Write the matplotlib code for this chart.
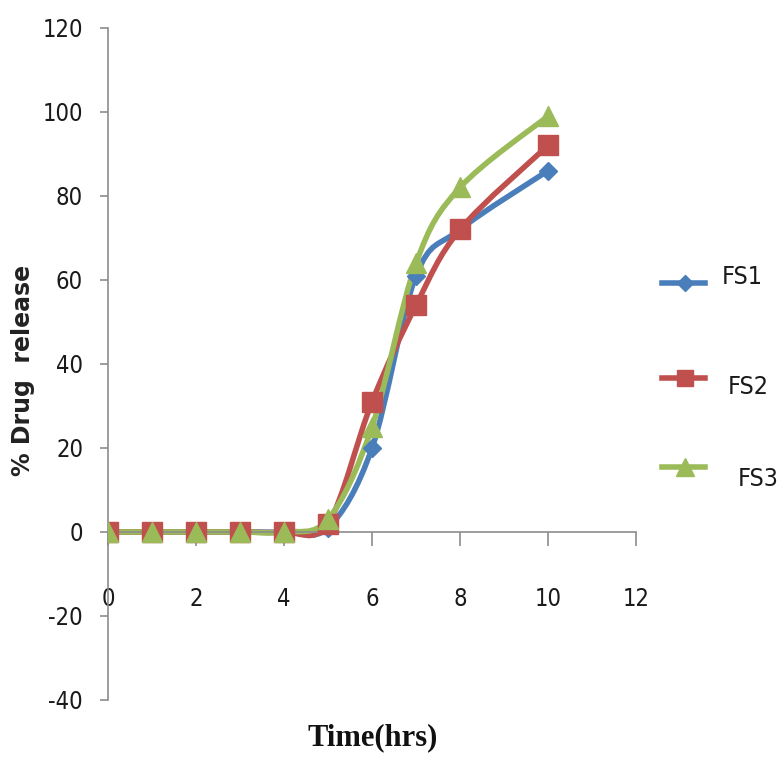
import numpy as np
import matplotlib
matplotlib.use("Agg")
import matplotlib.pyplot as plt
from matplotlib.path import Path
from matplotlib.patches import PathPatch
from matplotlib.lines import Line2D

plt.rcParams["axes.unicode_minus"] = False

# Release profile data
time_hrs = [0, 1, 2, 3, 4, 5, 6, 7, 8, 10]
fs1 = [0, 0, 0, 0, 0, 1, 20, 61, 72, 86]
fs2 = [0, 0, 0, 0, 0, 2, 31, 54, 72, 92]
fs3 = [0, 0, 0, 0, 0, 3, 25, 64, 82, 99]
series_names = ["FS1", "FS2", "FS3"]

x_ticks = [0, 2, 4, 6, 8, 10, 12]
y_ticks = [-40, -20, 0, 20, 40, 60, 80, 100, 120]

colors = ["#4A7EBB", "#C0504D", "#9BBB59"]
markers = ["D", "s", "^"]
msizes = [9, 14, 15]

TICK_FONT = dict(family="DejaVu Sans", stretch="condensed", size=17)


def smooth_path(xs, ys):
    """Cubic Bezier path through the points (Catmull-Rom style smoothing)."""
    pts = np.column_stack([xs, ys]).astype(float)
    n = len(pts)
    verts = [pts[0]]
    codes = [Path.MOVETO]
    for i in range(n - 1):
        p0 = pts[i - 1] if i > 0 else pts[i]
        p1 = pts[i]
        p2 = pts[i + 1]
        p3 = pts[i + 2] if i + 2 < n else pts[i + 1]
        c1 = p1 + (p2 - p0) / 6.0
        c2 = p2 - (p3 - p1) / 6.0
        verts += [c1, c2, p2]
        codes += [Path.CURVE4] * 3
    return Path(verts, codes)


fig = plt.figure(figsize=(7.8, 7.57), dpi=100)
ax = fig.add_axes([0.1385, 0.0753, 0.677, 0.888])

for vals, c, m, ms in zip([fs1, fs2, fs3], colors, markers, msizes):
    ax.add_patch(PathPatch(smooth_path(time_hrs, vals), facecolor="none",
                           edgecolor=c, lw=4.0, capstyle="round",
                           joinstyle="round", zorder=2))
    ax.plot(time_hrs, vals, linestyle="none", marker=m, markersize=ms,
            color=c, markeredgecolor=c, zorder=3)

ax.set_xlim(0, 12)
ax.set_ylim(-40, 120)
ax.set_xticks(x_ticks)
ax.set_yticks(y_ticks)

for s in ["top", "right"]:
    ax.spines[s].set_visible(False)
ax.spines["bottom"].set_position(("data", 0))
for s in ["left", "bottom"]:
    ax.spines[s].set_color("#8C8C8C")
    ax.spines[s].set_linewidth(1.2)

ax.tick_params(axis="x", direction="out", length=10, width=1.2,
               color="#8C8C8C", pad=30)
ax.tick_params(axis="y", direction="out", length=6, width=1.2,
               color="#8C8C8C", pad=12)
for lbl in ax.get_xticklabels() + ax.get_yticklabels():
    lbl.set_fontproperties(TICK_FONT)
    lbl.set_color("#1A1A1A")

fig.text(0.03, 1 - 370 / 757, "% Drug  release", rotation=90,
         ha="center", va="center", fontsize=17, color="#222222",
         fontweight="bold")
fig.text(0.478, 0.026, "Time(hrs)", ha="center", va="center",
         fontsize=22, fontweight="bold", family="Liberation Serif",
         color="#111111")

# Legend, drawn entry by entry on the right-hand side
legend_rows = [1 - 283 / 757, 1 - 378 / 757, 1 - 467 / 757]
label_x = [722 / 780, 728 / 780, 738 / 780]
label_dy = [0.008, -0.012, -0.016]
for name, c, m, ms, yr, lx, dy in zip(series_names, colors, markers, msizes,
                                      legend_rows, label_x, label_dy):
    fig.add_artist(Line2D([662 / 780, 705 / 780], [yr, yr], color=c, lw=4.0,
                          transform=fig.transFigure))
    fig.add_artist(Line2D([685 / 780], [yr], color=c, marker=m,
                          markersize=ms * 0.85, linestyle="none",
                          transform=fig.transFigure))
    fig.text(lx, yr + dy, name, ha="left", va="center",
             fontproperties=dict(family="DejaVu Sans", stretch="condensed",
                                 size=18), color="#1A1A1A")

fig.savefig("out.png", dpi=100, facecolor="white")
